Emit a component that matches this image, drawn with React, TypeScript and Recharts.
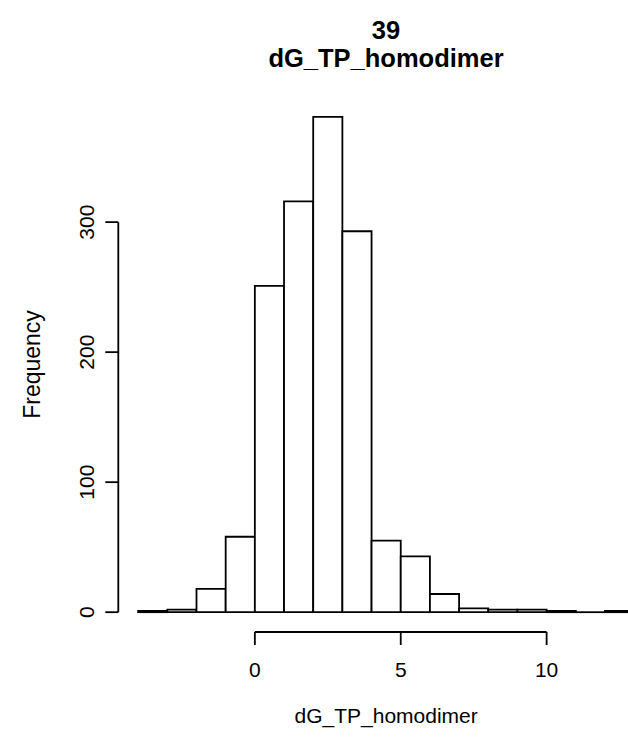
import React from 'react';
import { ComposedChart, XAxis, YAxis, ReferenceArea, ReferenceLine } from 'recharts';

// histogram of dG_TP_homodimer, bins of width 1 from -4 to 13
const binStarts = [-4, -3, -2, -1, 0, 1, 2, 3, 4, 5, 6, 7, 8, 9, 10, 11, 12];
const counts = [1, 2, 18, 58, 251, 316, 381, 293, 55, 43, 14, 3, 2, 2, 1, 0, 1];
const binWidth = 1;
const xTicks = [0, 5, 10];
const yTicks = [0, 100, 200, 300];
const titleLines = ['39', 'dG_TP_homodimer'];
const xLabel = 'dG_TP_homodimer';
const yLabel = 'Frequency';

const FONT = '"Liberation Sans", Arial, Helvetica, sans-serif';
const LW = 1.8;

const bins = binStarts.map((lo, i) => ({ lo, hi: lo + binWidth, count: counts[i] }));

// R style 4% axis extension
const xMin = binStarts[0];
const xMax = binStarts[binStarts.length - 1] + binWidth;
const xPad = (xMax - xMin) * 0.04;
const xDomain = [xMin - xPad, xMax + xPad];
const yMax = Math.max(...counts);
const yDomain = [-yMax * 0.04, yMax * 1.04];

const YTick = (props: any) => {
  const { x, y, payload } = props;
  return (
    <text x={x} y={y} transform={`rotate(-90, ${x}, ${y})`} textAnchor="middle"
      fontSize={21} fill="#000" fontFamily={FONT}>
      {payload.value}
    </text>
  );
};

export default function App() {
  return (
    <div style={{ position: 'absolute', left: 0, top: 0, width: 628, height: 743, overflow: 'hidden', background: '#fff', fontFamily: FONT }}>
      <ComposedChart width={700} height={743} data={bins}
        margin={{ top: 97, right: 46, bottom: 51, left: 0 }}>
        <XAxis type="number" dataKey="lo" domain={xDomain} allowDataOverflow ticks={xTicks}
          height={60} axisLine={false} tickSize={13} tickMargin={17}
          tickLine={{ stroke: '#000', strokeWidth: LW }}
          tick={{ fill: '#000', fontSize: 21, fontFamily: FONT }}
          label={{
            content: (p: any) => (
              <text x={p.viewBox.x + p.viewBox.width / 2} y={p.viewBox.y + 91} textAnchor="middle"
                fontSize={21} fill="#000" fontFamily={FONT}>{xLabel}</text>
            ),
          }} />
        <YAxis type="number" domain={yDomain} allowDataOverflow ticks={yTicks}
          width={118.3} axisLine={false} tickSize={13} tickMargin={11}
          tickLine={{ stroke: '#000', strokeWidth: LW }}
          tick={<YTick />}
          label={{
            content: (p: any) => {
              const cy = p.viewBox.y + p.viewBox.height / 2;
              return (
                <text x={39.5} y={cy} transform={`rotate(-90, 39.5, ${cy})`} textAnchor="middle"
                  fontSize={23} fill="#000" fontFamily={FONT}>{yLabel}</text>
              );
            },
          }} />
        {bins.map((b) =>
          b.count > 0 ? (
            <ReferenceArea key={b.lo} x1={b.lo} x2={b.hi} y1={0} y2={b.count}
              fill="#fff" fillOpacity={1} stroke="#000" strokeWidth={LW} ifOverflow="visible" />
          ) : (
            <ReferenceLine key={b.lo} segment={[{ x: b.lo, y: 0 }, { x: b.hi, y: 0 }]}
              stroke="#000" strokeWidth={LW} ifOverflow="visible" />
          )
        )}
        <ReferenceLine segment={[{ x: xDomain[0], y: yTicks[0] }, { x: xDomain[0], y: yTicks[yTicks.length - 1] }]}
          stroke="#000" strokeWidth={LW} ifOverflow="visible" />
        <ReferenceLine segment={[{ x: xTicks[0], y: yDomain[0] }, { x: xTicks[xTicks.length - 1], y: yDomain[0] }]}
          stroke="#000" strokeWidth={LW} ifOverflow="visible" />
      </ComposedChart>
      <svg width={628} height={90} style={{ position: 'absolute', left: 0, top: 0 }}>
        <text x={386} y={38.5} textAnchor="middle" fontSize={25.5} fontWeight="bold" fill="#000" fontFamily={FONT}>{titleLines[0]}</text>
        <text x={386} y={67} textAnchor="middle" fontSize={25.5} fontWeight="bold" fill="#000" fontFamily={FONT}>{titleLines[1]}</text>
      </svg>
    </div>
  );
}
